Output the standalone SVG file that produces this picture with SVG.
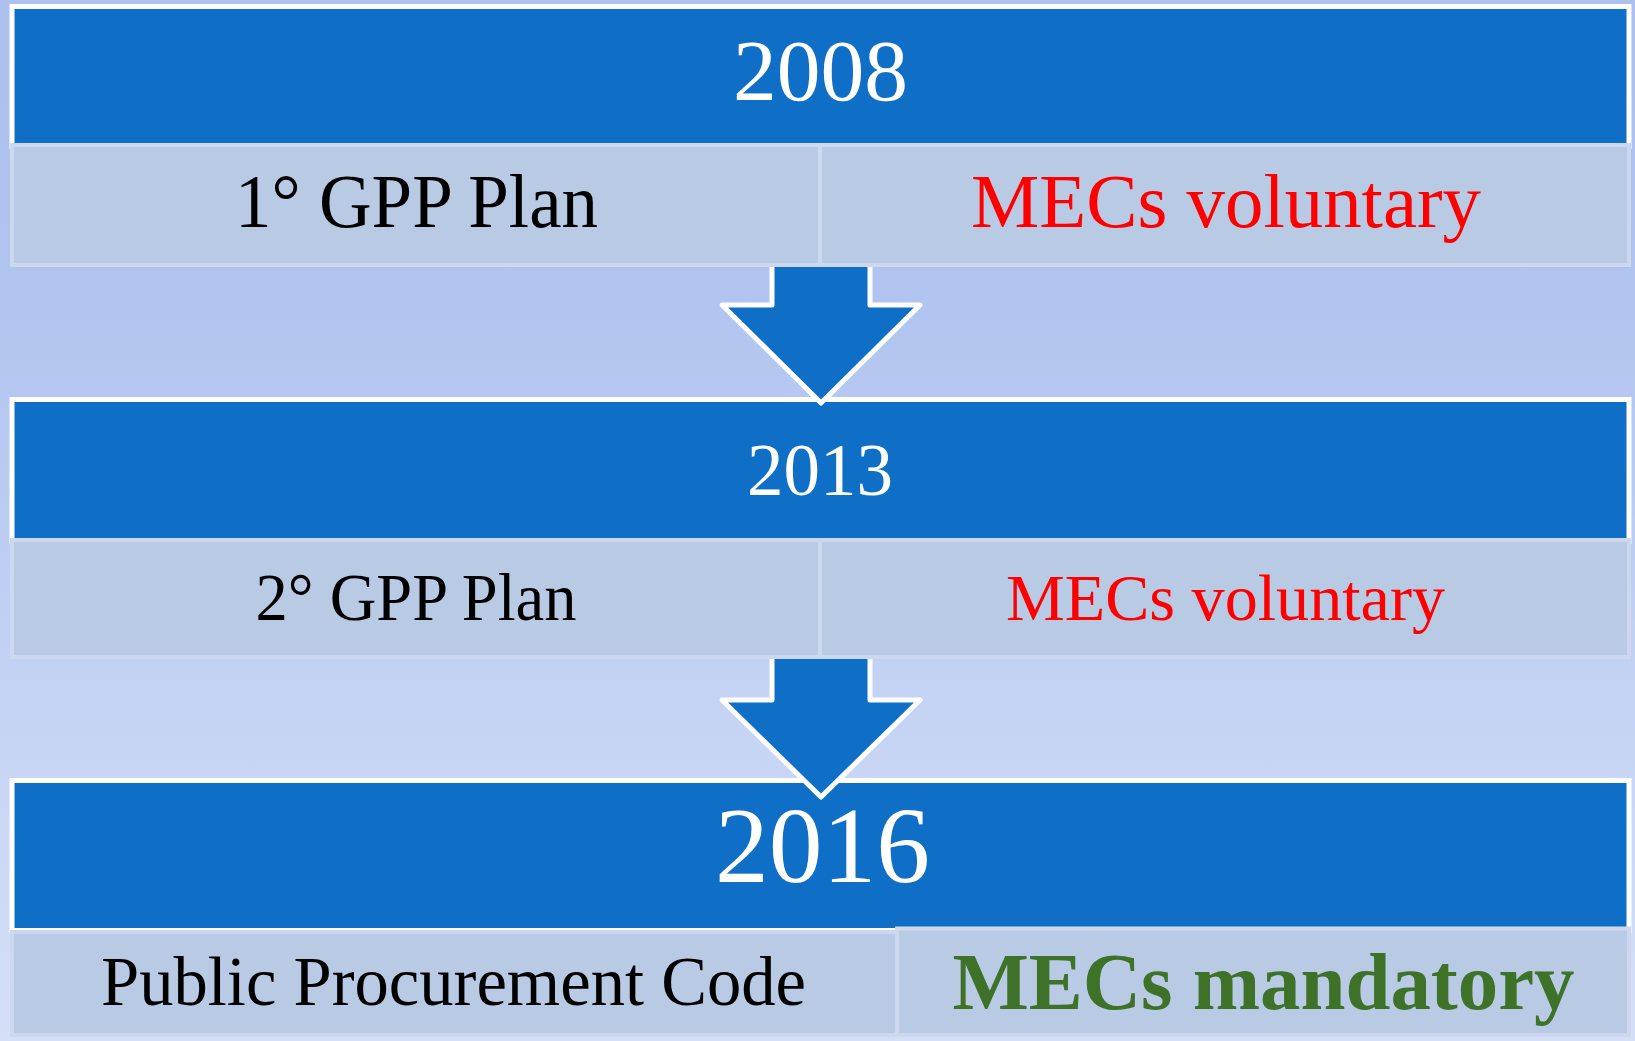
<svg xmlns="http://www.w3.org/2000/svg" width="1635" height="1041" viewBox="0 0 1635 1041">
  <defs>
    <linearGradient id="bg" x1="0" y1="0" x2="0" y2="1">
      <stop offset="0" stop-color="#ADC0EE"/>
      <stop offset="0.3" stop-color="#B2C5F0"/>
      <stop offset="1" stop-color="#D5DFF7"/>
    </linearGradient>
    <style>
      .hdr { fill: #0F6FC6; stroke: #FFFFFF; stroke-width: 5; }
      .cell { fill: #B9CAE5; stroke: #CDD7EE; stroke-width: 4; }
      .arrow { fill: #0F6FC6; stroke: #FFFFFF; stroke-width: 5; stroke-linejoin: round; }
      .year { font-family: "Liberation Serif", "DejaVu Serif", serif; fill: #FFFFFF; text-anchor: middle; }
      .lbl { font-family: "Liberation Serif", "DejaVu Serif", serif; fill: #000000; text-anchor: middle; }
      .red { font-family: "Liberation Serif", "DejaVu Serif", serif; fill: #FF0000; text-anchor: middle; }
      .green { font-family: "Liberation Serif", "DejaVu Serif", serif; fill: #3E7228; font-weight: bold; text-anchor: middle; }
    </style>
  </defs>
  <rect x="0" y="0" width="1635" height="1041" fill="url(#bg)"/>

  <g id="node-2008">
    <rect class="hdr" x="12" y="6.5" width="1617" height="140"/>
    <text class="year" x="820.5" y="100" font-size="87" textLength="175" lengthAdjust="spacingAndGlyphs">2008</text>
    <rect class="cell" x="12" y="145" width="808" height="120"/>
    <rect class="cell" x="820" y="145" width="809" height="120"/>
    <text class="lbl" x="416.5" y="227" font-size="76" textLength="363" lengthAdjust="spacingAndGlyphs">1° GPP Plan</text>
    <text class="red" x="1226" y="227" font-size="76" textLength="510" lengthAdjust="spacingAndGlyphs">MECs voluntary</text>
  </g>

  <g id="node-2013">
    <rect class="hdr" x="12" y="399.5" width="1617" height="142"/>
    <text class="year" x="820" y="495" font-size="73" textLength="146" lengthAdjust="spacingAndGlyphs">2013</text>
    <rect class="cell" x="12" y="540" width="808" height="117"/>
    <rect class="cell" x="820" y="540" width="809" height="117"/>
    <text class="lbl" x="416" y="619.5" font-size="67" textLength="321" lengthAdjust="spacingAndGlyphs">2° GPP Plan</text>
    <text class="red" x="1225.5" y="619.5" font-size="66" textLength="439" lengthAdjust="spacingAndGlyphs">MECs voluntary</text>
  </g>

  <g id="node-2016">
    <rect class="hdr" x="12" y="780.5" width="1617" height="150"/>
    <text class="year" x="822.5" y="882" font-size="107" textLength="215" lengthAdjust="spacingAndGlyphs">2016</text>
    <rect class="cell" x="12" y="932" width="885" height="103"/>
    <rect class="cell" x="897" y="928.5" width="732" height="106.5"/>
    <text class="lbl" x="453.5" y="1005" font-size="69" textLength="705" lengthAdjust="spacingAndGlyphs">Public Procurement Code</text>
    <text class="green" x="1263.5" y="1009" font-size="80" textLength="622" lengthAdjust="spacingAndGlyphs">MECs mandatory</text>
  </g>

  <g id="connectors">
    <path class="arrow" d="M772,267 V305 H722 L821,403 L920,305 H870 V267"/>
    <path class="arrow" d="M772,659 V700 H722 L821,797 L920,700 H870 V659"/>
  </g>
</svg>
